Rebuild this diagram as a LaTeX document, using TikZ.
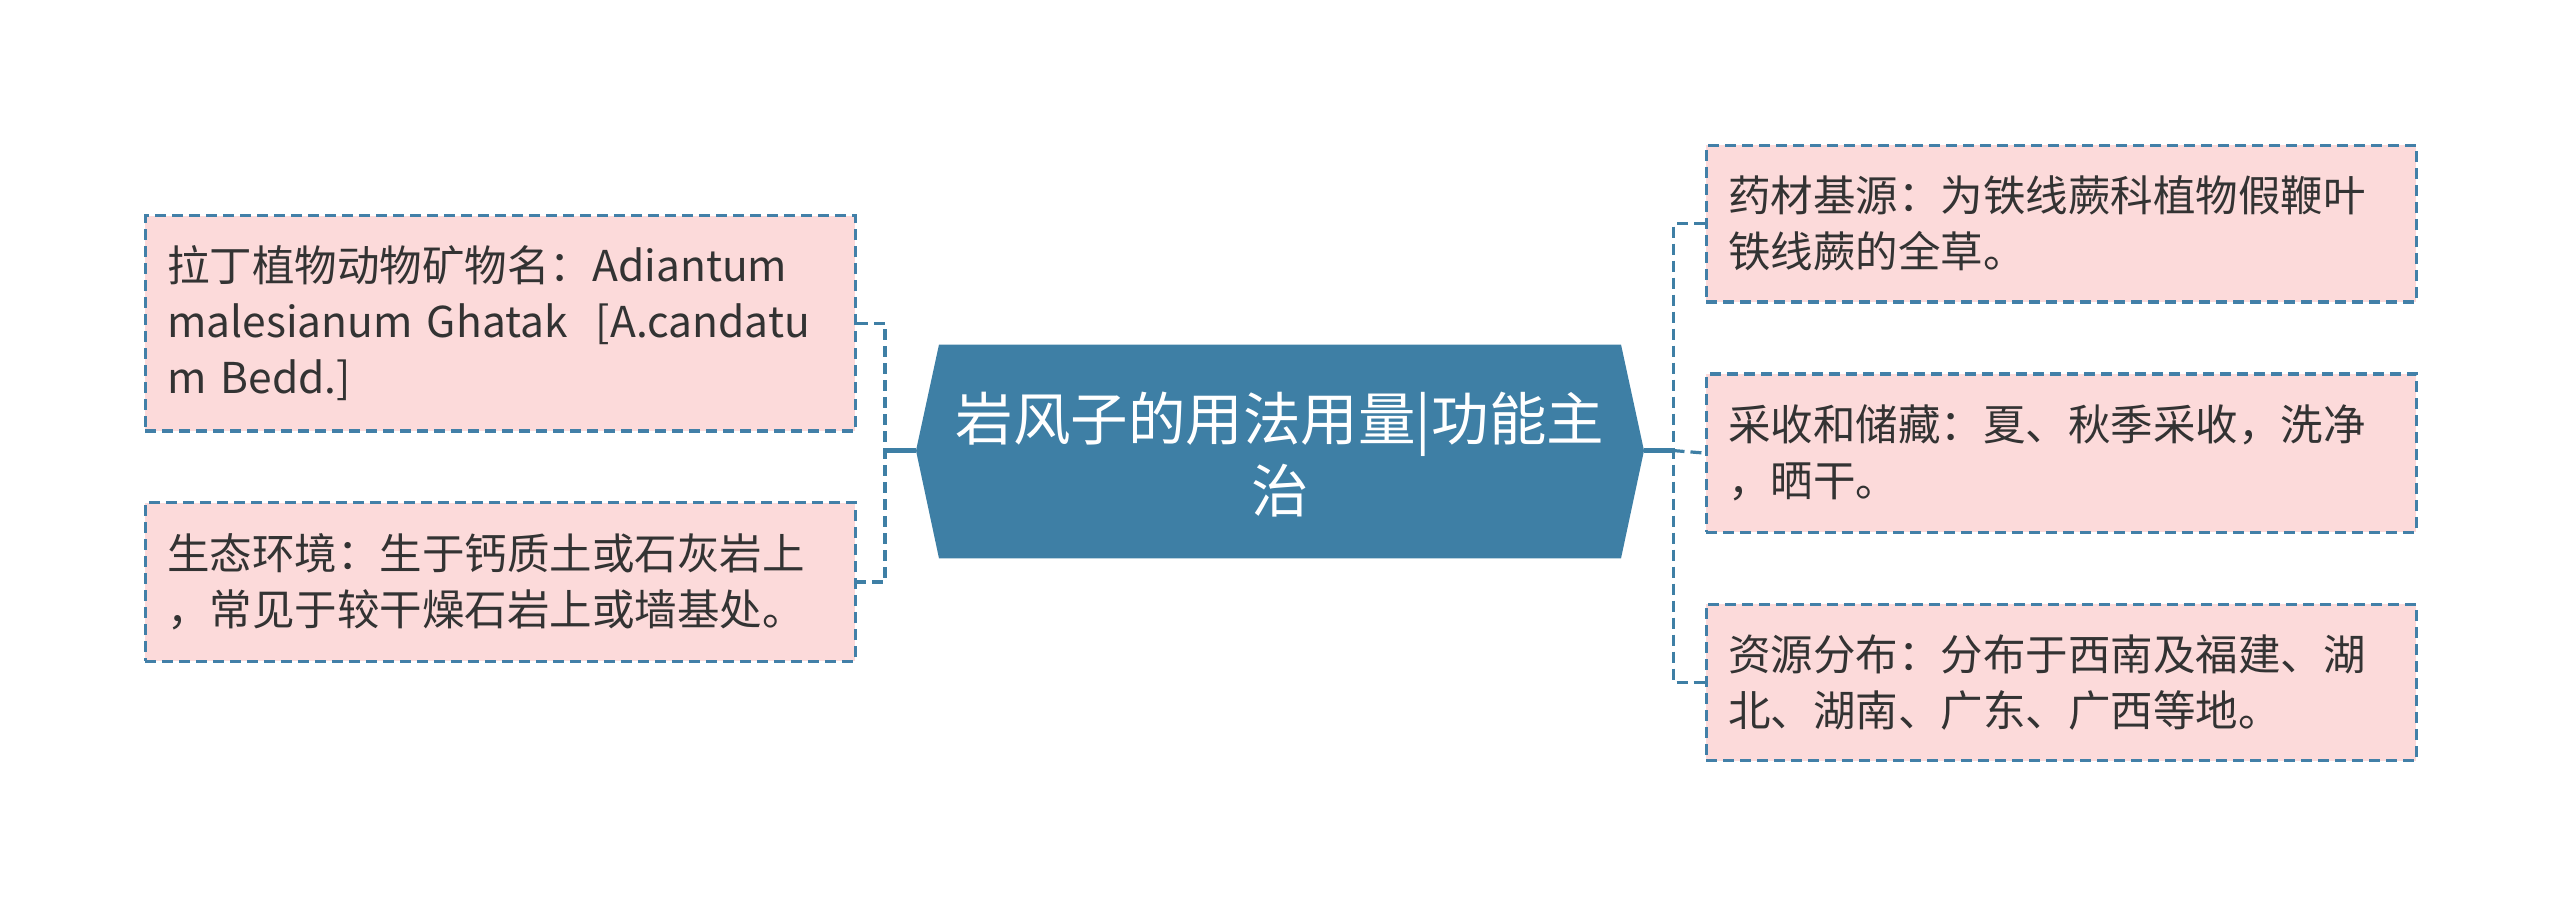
\documentclass[tikz,border=0pt]{standalone}
\usepackage{fontspec}
\setmainfont{Noto Sans CJK SC}
\definecolor{hub}{RGB}{62,127,165}
\definecolor{boxfill}{RGB}{252,218,218}
\definecolor{boxline}{RGB}{66,128,168}
\definecolor{txt}{RGB}{51,51,51}
\begin{document}
\begin{tikzpicture}[x=1pt,y=-1pt,
  leaf/.style={draw=boxline, fill=boxfill, line width=3.2pt, dash pattern=on 11pt off 6pt,
    text width=666pt, inner xsep=22pt, inner ysep=0pt, align=left,
    font=\fontsize{42.5}{56}\selectfont, text=txt, anchor=north west},
  link/.style={draw=hub, line width=3.2pt, dash pattern=on 11pt off 6pt},
  stem/.style={draw=hub, line width=4.5pt},
  hubtext/.style={text=white, align=center, font=\fontsize{57.5}{72}\selectfont}]
\useasboundingbox (0,0) rectangle (2560,903);
% left boxes
\node[leaf, minimum height=215.5pt] (l1) at (143.7,213.9)
  {拉丁植物动物矿物名：Adiantum\\malesianum Ghatak~~[A.candatu\\m Bedd.]};
\node[leaf, minimum height=158.4pt] (l2) at (143.7,501.2)
  {生态环境：生于钙质土或石灰岩上\\，常见于较干燥石岩上或墙基处。};
% right boxes
\node[leaf, minimum height=156.7pt] (r1) at (1704.6,143.7)
  {药材基源：为铁线蕨科植物假鞭叶\\铁线蕨的全草。};
\node[leaf, minimum height=158.3pt] (r2) at (1704.6,372.3)
  {采收和储藏：夏、秋季采收，洗净\\，晒干。};
\node[leaf, minimum height=156.7pt] (r3) at (1704.6,602.5)
  {资源分布：分布于西南及福建、湖\\北、湖南、广东、广西等地。};
% central hexagon
\fill[hub] (939,344.5) -- (1621,344.5) -- (1644,450.6) -- (1621,558.4)
  -- (939,558.4) -- (916,450.6) -- cycle;
\coordinate (hl) at (916,450.6);
\coordinate (hr) at (1644,450.6);
\node[hubtext] (c) at (1280,455) {岩风子的用法用量|功能主\\治};
% connectors
\coordinate (jl) at (885,450.6);
\coordinate (jr) at (1673.5,450.6);
\draw[link] (l1.east) -| (jl) |- (l2.east);
\draw[link] (r1.west) -| (jr) |- (r3.west);
\draw[link] (jr) -- (r2.west);
\draw[stem] (hl) -- (jl);
\draw[stem] (hr) -- (jr);
\end{tikzpicture}
\end{document}
